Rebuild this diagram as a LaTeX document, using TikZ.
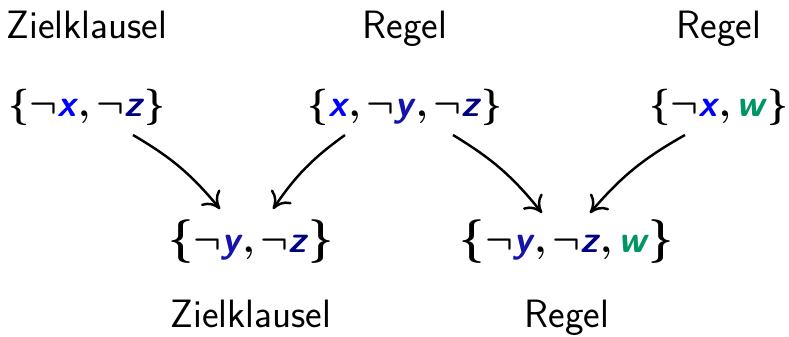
\documentclass[tikz,border=0pt]{standalone}
\usepackage{amsmath}
\usepackage{amssymb}
\usepackage{xcolor}
\usepackage{tikz}
\usetikzlibrary{positioning}
\usetikzlibrary{calc}
\usetikzlibrary{arrows.meta}
\definecolor{xblue}{RGB}{0,0,255}
\definecolor{yblue}{RGB}{20,20,170}
\definecolor{zblue}{RGB}{0,0,128}
\definecolor{wgreen}{RGB}{0,150,100}
\newcommand{\lit}[2]{\textcolor{#1}{\textbf{\textsl{#2}}}}
\newcommand{\nlit}[2]{$\boldsymbol{\neg}$\lit{#1}{#2}}
\newcommand{\sep}{$\boldsymbol{,}\,$}
\newcommand{\cl}[1]{$\boldsymbol{\{}$#1$\boldsymbol{\}}$}
\newcommand{\bigcl}[1]{{\fontsize{25.5}{30}\selectfont$\boldsymbol{\{}$}#1{\fontsize{25.5}{30}\selectfont$\boldsymbol{\}}$}}
\tikzset{
    res arrow/.style = {-{Computer Modern Rightarrow[length=9pt,width=14pt]}, line width=1.4pt},
    clause node/.style = {inner sep=0, font=\fontsize{21.5}{26}\selectfont\sffamily\bfseries},
    title label/.style = {inner sep=0, font=\fontsize{22.5}{26}\selectfont\sffamily,
        text height=15.8pt, text depth=4.5pt, label distance=0.84cm},
    low title/.style = {title label, label distance=0.7cm}
}
\begin{document}
\begin{tikzpicture}[x=0.02cm, y=-0.02cm]
    \useasboundingbox (0,0) rectangle (789,336);
    \node(z1)[clause node, label={[title label]above:Zielklausel}] at (87,107)
        {\cl{\nlit{xblue}{x}\sep\nlit{zblue}{z}}};
    \node(r1)[clause node, label={[title label]above:Regel}] at (405,107)
        {\cl{\lit{xblue}{x}\sep\nlit{yblue}{y}\sep\nlit{zblue}{z}}};
    \node(r2)[clause node, label={[title label]above:Regel}] at (719,107)
        {\cl{\nlit{xblue}{x}\sep\lit{wgreen}{w}}};
    \node(z2)[clause node, label={[low title]below:Zielklausel}] at (251,242)
        {\bigcl{\nlit{yblue}{y}\sep\nlit{zblue}{z}}};
    \node(r3)[clause node, label={[low title]below:Regel}] at (567,242)
        {\bigcl{\nlit{yblue}{y}\sep\nlit{zblue}{z}\sep\lit{wgreen}{w}}};
    % resolution steps
    \draw[res arrow] ($(z1)+(46,28)$) to[bend left=10] ($(z2)+(-31,-33)$);
    \draw[res arrow] ($(r1)+(-60,28)$) to[bend right=10] ($(z2)+(22,-33)$);
    \draw[res arrow] ($(r1)+(48,28)$) to[bend left=10] ($(r3)+(-25,-29)$);
    \draw[res arrow] ($(r2)+(-34,28)$) to[bend right=10] ($(r3)+(23,-29)$);
\end{tikzpicture}
\end{document}
